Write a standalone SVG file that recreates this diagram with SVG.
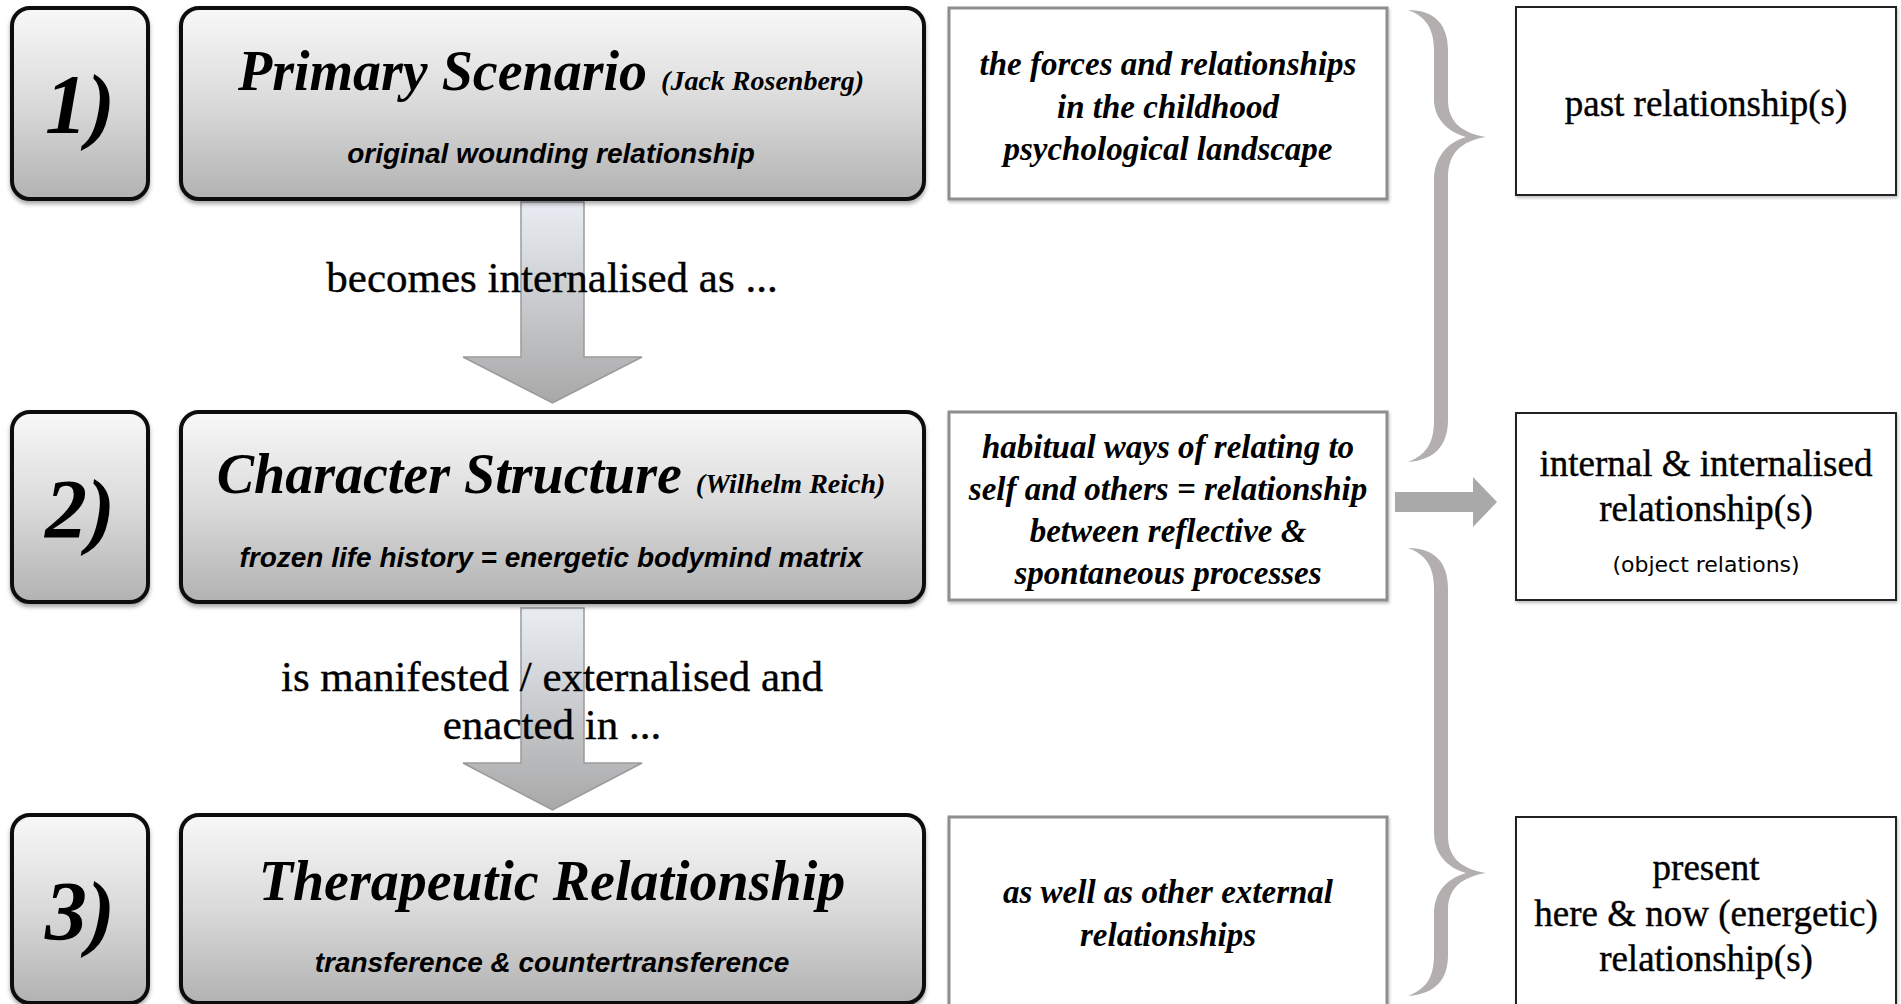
<svg xmlns="http://www.w3.org/2000/svg" width="1901" height="1004" viewBox="0 0 1901 1004">
<defs>
<linearGradient id="boxgrad" x1="0" y1="0" x2="0" y2="1">
<stop offset="0" stop-color="#f8f8f8"/>
<stop offset="0.5" stop-color="#dadada"/>
<stop offset="1" stop-color="#b2b2b2"/>
</linearGradient>
<linearGradient id="arrgrad" x1="0" y1="0" x2="0" y2="1">
<stop offset="0" stop-color="#e9edf3"/>
<stop offset="1" stop-color="#a8a8a8"/>
</linearGradient>
<filter id="sh" x="-5%" y="-5%" width="110%" height="115%">
<feDropShadow dx="0" dy="3" stdDeviation="2" flood-color="#000" flood-opacity="0.35"/>
</filter>
<filter id="sh2" x="-5%" y="-5%" width="110%" height="115%">
<feDropShadow dx="1" dy="2" stdDeviation="1.5" flood-color="#000" flood-opacity="0.25"/>
</filter>
<style>
.nb{fill:url(#boxgrad);stroke:#111;stroke-width:4;filter:url(#sh)}
.mid{fill:#fff;stroke:#8e8e8e;stroke-width:3;filter:url(#sh2)}
.rt{fill:#fff;stroke:#222;stroke-width:2;filter:url(#sh2)}
.arr{fill:url(#arrgrad);stroke:#9a9a9a;stroke-width:1.5}
.brace{fill:#b3afaf}
.harr{fill:#a9a9a9}
.num{font-family:"Liberation Serif",serif;font-weight:bold;font-style:italic;font-size:84px;text-anchor:middle;fill:#000}
.title{font-family:"Liberation Serif",serif;font-weight:bold;font-style:italic;font-size:56px;text-anchor:middle;fill:#000}
.small{font-size:28px}
.sub{font-family:"Liberation Sans",sans-serif;font-weight:bold;font-style:italic;font-size:28px;text-anchor:middle;fill:#000}
.it{font-family:"Liberation Serif",serif;font-weight:bold;font-style:italic;font-size:33px;text-anchor:middle;fill:#000}
.rel{font-family:"Liberation Serif",serif;font-size:37px;text-anchor:middle;fill:#000;stroke:#000;stroke-width:0.4}
.lab{font-family:"Liberation Serif",serif;font-size:43px;text-anchor:middle;fill:#000;stroke:#000;stroke-width:0.4}
.obj{font-family:"DejaVu Sans",sans-serif;font-size:22px;text-anchor:middle;fill:#000}
</style>
</defs>
<rect width="1901" height="1004" fill="#fff"/>

<g id="connectors">
<polygon class="arr" points="521,202 584,202 584,357 642,357 552.5,403 463,357 521,357"/>
<polygon class="arr" points="521,608 584,608 584,763 642,763 552.5,810 463,763 521,763"/>
<path class="brace" d="M1408,10 C1435,10 1448,25 1448,50 L1448,100 C1448,122 1462,133 1486,137 C1462,141 1448,152 1448,178 L1448,420 C1448,445 1435,460 1408,462 C1425,455 1434,445 1434,420 L1434,180 C1434,160 1445,143 1466,137 C1445,131 1434,116 1434,100 L1434,50 C1434,28 1425,16 1408,10 Z"/>
<path class="brace" d="M1408,548 C1435,548 1448,563 1448,588 L1448,836 C1448,858 1462,869 1486,873 C1462,877 1448,888 1448,910 L1448,955 C1448,980 1435,994 1408,996 C1425,989 1434,979 1434,955 L1434,914 C1434,894 1445,879 1466,873 C1445,867 1434,852 1434,832 L1434,588 C1434,566 1425,554 1408,548 Z"/>
<polygon class="harr" points="1395,492 1473,492 1473,477 1497,502 1473,527 1473,512 1395,512"/>
<text class="lab" x="552" y="292">becomes internalised as ...</text>
<text class="lab" x="552" y="691">is manifested / externalised and</text>
<text class="lab" x="552" y="739">enacted in ...</text>
</g>

<g id="num1"><rect class="nb" x="12" y="8" width="136" height="191" rx="18"/><text class="num" x="80" y="133">1)</text></g>
<g id="num2"><rect class="nb" x="12" y="412" width="136" height="190" rx="18"/><text class="num" x="80" y="538">2)</text></g>
<g id="num3"><rect class="nb" x="12" y="815" width="136" height="188" rx="18"/><text class="num" x="80" y="940">3)</text></g>

<g id="primary-scenario"><rect class="nb" x="181" y="8" width="743" height="191" rx="18"/>
<text class="title" x="551" y="90">Primary Scenario<tspan class="small" dx="14">(Jack Rosenberg)</tspan></text>
<text class="sub" x="551" y="163">original wounding relationship</text></g>

<g id="character-structure"><rect class="nb" x="181" y="412" width="743" height="190" rx="18"/>
<text class="title" x="551" y="493">Character Structure<tspan class="small" dx="14">(Wilhelm Reich)</tspan></text>
<text class="sub" x="551" y="567">frozen life history = energetic bodymind matrix</text></g>

<g id="therapeutic-relationship"><rect class="nb" x="181" y="815" width="743" height="188" rx="18"/>
<text class="title" x="552" y="900">Therapeutic Relationship</text>
<text class="sub" x="552" y="972">transference &amp; countertransference</text></g>

<g id="desc1"><rect class="mid" x="949" y="8" width="438" height="191"/>
<text class="it" x="1168" y="75">the forces and relationships</text>
<text class="it" x="1168" y="118">in the childhood</text>
<text class="it" x="1168" y="160">psychological landscape</text></g>

<g id="desc2"><rect class="mid" x="949" y="412" width="438" height="188"/>
<text class="it" x="1168" y="458">habitual ways of relating to</text>
<text class="it" x="1168" y="500">self and others = relationship</text>
<text class="it" x="1168" y="542">between reflective &amp;</text>
<text class="it" x="1168" y="584">spontaneous processes</text></g>

<g id="desc3"><rect class="mid" x="949" y="817" width="438" height="192"/>
<text class="it" x="1168" y="903">as well as other external</text>
<text class="it" x="1168" y="946">relationships</text></g>

<g id="past"><rect class="rt" x="1516" y="7" width="380" height="188"/>
<text class="rel" x="1706" y="116">past relationship(s)</text></g>

<g id="internal"><rect class="rt" x="1516" y="413" width="380" height="187"/>
<text class="rel" x="1706" y="476">internal &amp; internalised</text>
<text class="rel" x="1706" y="521">relationship(s)</text>
<text class="obj" x="1706" y="572">(object relations)</text></g>

<g id="present"><rect class="rt" x="1516" y="817" width="380" height="192"/>
<text class="rel" x="1706" y="880">present</text>
<text class="rel" x="1706" y="926">here &amp; now (energetic)</text>
<text class="rel" x="1706" y="971">relationship(s)</text></g>
</svg>
